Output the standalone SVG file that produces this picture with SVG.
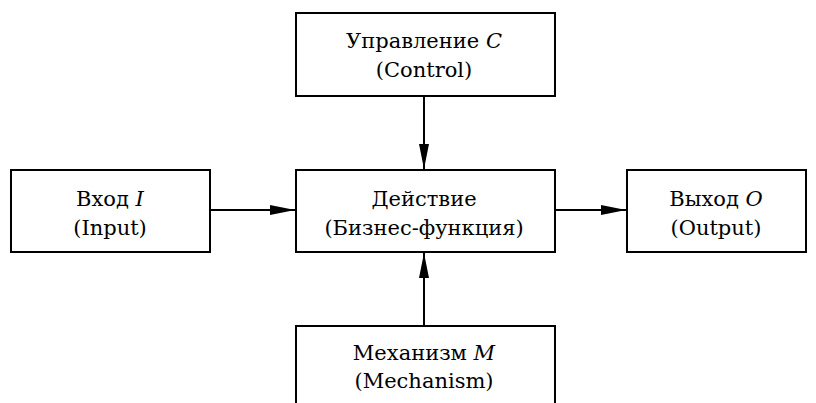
<svg xmlns="http://www.w3.org/2000/svg" width="816" height="403" viewBox="0 0 816 403">
<style>
.box{fill:#fff;stroke:#000;stroke-width:2}
text{font-family:'DejaVu Serif',serif;font-size:21px;text-anchor:middle;fill:#000}
.i{font-style:italic}
.c{stroke:#000;stroke-width:2;fill:none}
</style>
<defs>
<marker id="ah" viewBox="0 0 25 10" refX="25" refY="5" markerWidth="25" markerHeight="10" markerUnits="userSpaceOnUse" orient="auto">
<path d="M0,0 L25,5 L0,10 z" fill="#000"/>
</marker>
</defs>
<g id="connectors">
<line class="c" x1="424" y1="96" x2="424" y2="169" marker-end="url(#ah)"/>
<line class="c" x1="424" y1="326" x2="424" y2="253" marker-end="url(#ah)"/>
<line class="c" x1="210" y1="210" x2="295" y2="210" marker-end="url(#ah)"/>
<line class="c" x1="555" y1="210" x2="626" y2="210" marker-end="url(#ah)"/>
</g>
<g id="control">
<rect class="box" x="296" y="13" width="259" height="83"/>
<text x="424" y="48">Управление <tspan class="i">C</tspan></text>
<text x="424" y="77">(Control)</text>
</g>
<g id="action">
<rect class="box" x="296" y="170" width="259" height="82"/>
<text x="424" y="206">Действие</text>
<text x="424" y="235">(Бизнес-функция)</text>
</g>
<g id="input">
<rect class="box" x="11" y="170" width="199" height="82"/>
<text x="110" y="206">Вход <tspan class="i">I</tspan></text>
<text x="110" y="235">(Input)</text>
</g>
<g id="output">
<rect class="box" x="627" y="170" width="179" height="82"/>
<text x="716" y="206">Выход <tspan class="i">O</tspan></text>
<text x="716" y="235">(Output)</text>
</g>
<g id="mechanism">
<rect class="box" x="296" y="326" width="259" height="90"/>
<text x="424" y="360">Механизм <tspan class="i">M</tspan></text>
<text x="424" y="388">(Mechanism)</text>
</g>
</svg>
